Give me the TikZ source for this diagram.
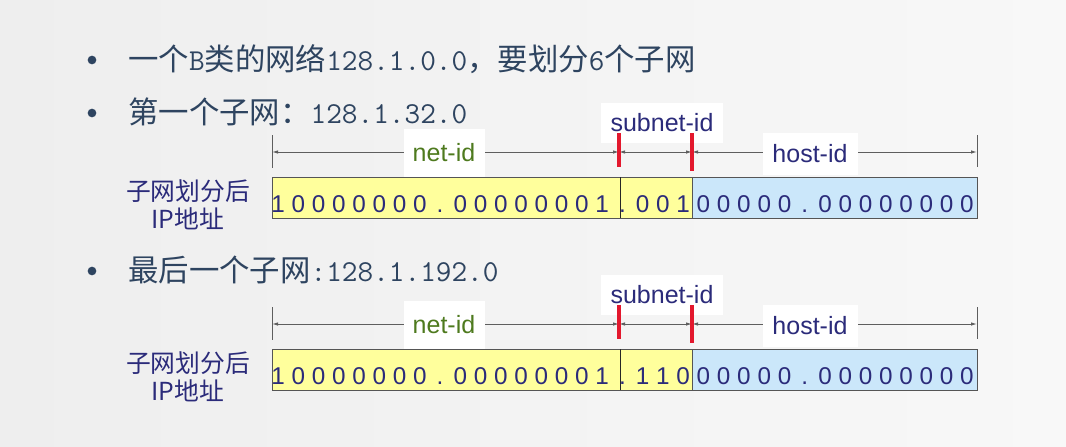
\documentclass[tikz,border=0pt]{standalone}
\usepackage{fontspec}
\setsansfont{Liberation Sans}
\newfontfamily\cjk{Noto Sans CJK SC}
\usetikzlibrary{arrows.meta}
\definecolor{bgc}{HTML}{EEEEEE}
\definecolor{bgl}{HTML}{F8F8F8}
\definecolor{slatec}{HTML}{2E4460}
\definecolor{navyc}{HTML}{2B2B7A}
\definecolor{greenc}{HTML}{4E7A1E}
\definecolor{yelc}{HTML}{FFFF9C}
\definecolor{bluec}{HTML}{CBE7FA}
\definecolor{redc}{HTML}{E3182D}
\definecolor{dimc}{HTML}{5E5E5E}
\definecolor{boxc}{HTML}{555555}

\newcommand\ipdiagram[3]{%
\begin{scope}[shift={(0,#2)}, name prefix=#1-]
  % dimension line
  \coordinate (Lt) at (272,135); \coordinate (Lb) at (272,168);
  \coordinate (Rt) at (977,135); \coordinate (Rb) at (977,167);
  \coordinate (L) at (272,152); \coordinate (S1) at (619,152);
  \coordinate (S2) at (692,152); \coordinate (R) at (977,152);
  \draw[dimline] (Lt) -- (Lb);
  \draw[dimline] (Rt) -- (Rb);
  \draw[dimline, arr] (L) -- (S1);
  \draw[dimline, arr] (S1) -- (S2);
  \draw[dimline, arr] (S2) -- (R);
  % labels
  \node[lab, minimum width=60.75pt, minimum height=36pt, text=greenc] (net) at (444,153) {net-id};
  \node[lab, minimum width=91.5pt, minimum height=30pt, text=navyc] (sub) at (662,123) {subnet-id};
  \node[lab, minimum width=71.25pt, minimum height=32pt, text=navyc] (host) at (810,154) {host-id};
  % red marks
  \coordinate (m1t) at (619,133); \coordinate (m1b) at (619,167);
  \coordinate (m2t) at (692,133); \coordinate (m2b) at (692,171);
  \draw[redmark] (m1t) -- (m1b);
  \draw[redmark] (m2t) -- (m2b);
  % address box
  \node[addrbox, fill=yelc, minimum width=315pt, anchor=north west] (yb) at (272,177) {};
  \node[addrbox, fill=bluec, minimum width=213.75pt, anchor=north west] (bb) at (692,177) {};
  \coordinate (dv1) at (620,177); \coordinate (dv2) at (620,218);
  \draw[line width=0.6pt, black!85] (dv1) -- (dv2);
  \foreach \c [count=\i from 0] in {#3}
    \node[digit, anchor=base] (d\i) at ({278+\i*20.26},212) {\c};
  % side label
  \node[side] (lbl) at (188,205) {子网划分后\\IP地址};
\end{scope}}

\begin{document}
\begin{tikzpicture}[x=0.75pt,y=-0.75pt,
  bullet/.style={circle, fill=slatec, inner sep=0pt, minimum size=6.5pt},
  txt/.style={anchor=west, inner sep=0pt, text=slatec, font=\fontsize{22.8}{26}\selectfont},
  dimline/.style={draw=dimc, line width=0.7pt},
  arr/.style={{Latex[length=4.5pt,width=2.6pt]}-{Latex[length=4.5pt,width=2.6pt]}},
  lab/.style={fill=white, inner sep=0pt, font=\sffamily\fontsize{18.75}{20}\selectfont},
  redmark/.style={draw=redc, line width=2.3pt},
  addrbox/.style={draw=boxc, line width=0.8pt, minimum height=30.75pt, inner sep=0pt},
  digit/.style={inner sep=0pt, text=navyc, font=\sffamily\fontsize{18.2}{20}\selectfont},
  side/.style={align=center, inner sep=0pt, text=navyc, font=\cjk\fontsize{18.6}{21}\selectfont}
]
\shade[left color=bgc, right color=bgl] (0,0) rectangle (1066,446);
\useasboundingbox (0,0) rectangle (1066,446);

\node[bullet] (b1) at (92,60) {};
\node[txt] (t1) at (128,59) {{\cjk 一个}{\ttfamily B}{\cjk 类的网络}{\ttfamily 128.1.0.0}{\cjk ，要划分}{\ttfamily 6}{\cjk 个子网}};
\node[bullet] (b2) at (92,113) {};
\node[txt] (t2) at (128,112) {{\cjk 第一个子网：}{\ttfamily 128.1.32.0}};
\node[bullet] (b3) at (92,271) {};
\node[txt] (t3) at (128,270) {{\cjk 最后一个子网}{\ttfamily :128.1.192.0}};

\ipdiagram{A}{0}{1,0,0,0,0,0,0,0,.,0,0,0,0,0,0,0,1,.,0,0,1,0,0,0,0,0,.,0,0,0,0,0,0,0,0}
\ipdiagram{B}{172}{1,0,0,0,0,0,0,0,.,0,0,0,0,0,0,0,1,.,1,1,0,0,0,0,0,0,.,0,0,0,0,0,0,0,0}
\end{tikzpicture}
\end{document}
